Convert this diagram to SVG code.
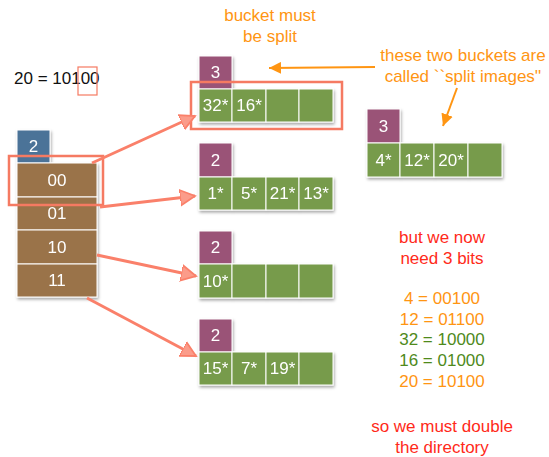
<svg xmlns="http://www.w3.org/2000/svg" width="549" height="457" viewBox="0 0 549 457">
  <style>
    text { font-family: "Liberation Sans", Arial, sans-serif; }
    .lbl { font-size: 17px; text-anchor: middle; }
    .orange { fill: #ff9512; }
    .red { fill: #ff2a1a; }
    .green { fill: #4f8a1b; }
    .cell { fill: #779b4b; stroke: #ffffff; stroke-width: 1; }
    .depth { fill: #9a5377; stroke: #ffffff; stroke-width: 1; }
    .gdepth { fill: #4c7398; stroke: #ffffff; stroke-width: 1; }
    .dir { fill: #9a7349; stroke: #ffffff; stroke-width: 1; }
    .ct { font-size: 17px; fill: #ffffff; text-anchor: middle; }
    .hl { fill: none; stroke: #f57a62; stroke-width: 2.5; }
    .ptr { stroke: #fa806a; stroke-width: 3; fill: none; marker-end: url(#ptrHead); }
    .note { stroke: #ff9512; stroke-width: 2; fill: none; marker-end: url(#noteHead); }
  </style>
  <defs>
    <filter id="shadow" x="-20%" y="-20%" width="150%" height="150%">
      <feDropShadow dx="1" dy="2" stdDeviation="1.5" flood-color="#000" flood-opacity="0.35"/>
    </filter>
    <marker id="ptrHead" markerWidth="6" markerHeight="6" refX="5" refY="3" orient="auto" markerUnits="strokeWidth">
      <path d="M0,0.4 L5,3 L0,5.6 Z" fill="#fb9c8a" stroke="#fa806a" stroke-width="0.6"/>
    </marker>
    <marker id="noteHead" markerWidth="7" markerHeight="6" refX="6" refY="3" orient="auto" markerUnits="strokeWidth">
      <path d="M0,0 L6,3 L0,6 Z" fill="#ff9512"/>
    </marker>
  </defs>

  <!-- hashed value and the bits used -->
  <text x="14" y="84" font-size="17" fill="#111">20 = 10100</text>
  <rect x="78" y="67" width="19" height="28" fill="none" stroke="#f57a62" stroke-width="1.2"/>

  <!-- directory, global depth 2 -->
  <g id="directory" filter="url(#shadow)">
    <rect class="gdepth" x="17" y="130" width="33" height="33"/>
    <text class="ct" x="33.5" y="152">2</text>
    <rect class="dir" x="17" y="163" width="80" height="34"/>
    <text class="ct" x="57" y="186">00</text>
    <rect class="dir" x="17" y="197" width="80" height="33"/>
    <text class="ct" x="57" y="219">01</text>
    <rect class="dir" x="17" y="230" width="80" height="34"/>
    <text class="ct" x="57" y="253">10</text>
    <rect class="dir" x="17" y="264" width="80" height="33"/>
    <text class="ct" x="57" y="286">11</text>
  </g>
  <rect class="hl" x="9" y="156" width="94" height="49"/>

  <!-- bucket A (overflowing), local depth 3 -->
  <g id="bucketA" filter="url(#shadow)">
    <rect class="depth" x="199" y="56" width="33" height="33"/>
    <text class="ct" x="215.5" y="78">3</text>
    <rect class="cell" x="199" y="89" width="33" height="33"/>
    <rect class="cell" x="232" y="89" width="34" height="33"/>
    <rect class="cell" x="266" y="89" width="33" height="33"/>
    <rect class="cell" x="299" y="89" width="34" height="33"/>
    <text class="ct" x="215.5" y="111">32*</text>
    <text class="ct" x="249" y="111">16*</text>
  </g>
  <rect class="hl" x="191" y="82" width="151" height="47"/>

  <!-- bucket B, local depth 2 -->
  <g id="bucketB" filter="url(#shadow)">
    <rect class="depth" x="199" y="143" width="33" height="34"/>
    <text class="ct" x="215.5" y="166">2</text>
    <rect class="cell" x="199" y="177" width="33" height="33"/>
    <rect class="cell" x="232" y="177" width="34" height="33"/>
    <rect class="cell" x="266" y="177" width="33" height="33"/>
    <rect class="cell" x="299" y="177" width="34" height="33"/>
    <text class="ct" x="215.5" y="199">1*</text>
    <text class="ct" x="249" y="199">5*</text>
    <text class="ct" x="282.5" y="199">21*</text>
    <text class="ct" x="316" y="199">13*</text>
  </g>

  <!-- bucket C, local depth 2 -->
  <g id="bucketC" filter="url(#shadow)">
    <rect class="depth" x="199" y="231" width="33" height="33"/>
    <text class="ct" x="215.5" y="253">2</text>
    <rect class="cell" x="199" y="264" width="33" height="34"/>
    <rect class="cell" x="232" y="264" width="34" height="34"/>
    <rect class="cell" x="266" y="264" width="33" height="34"/>
    <rect class="cell" x="299" y="264" width="34" height="34"/>
    <text class="ct" x="215.5" y="287">10*</text>
  </g>

  <!-- bucket D, local depth 2 -->
  <g id="bucketD" filter="url(#shadow)">
    <rect class="depth" x="199" y="319" width="33" height="33"/>
    <text class="ct" x="215.5" y="341">2</text>
    <rect class="cell" x="199" y="352" width="33" height="33"/>
    <rect class="cell" x="232" y="352" width="34" height="33"/>
    <rect class="cell" x="266" y="352" width="33" height="33"/>
    <rect class="cell" x="299" y="352" width="34" height="33"/>
    <text class="ct" x="215.5" y="374">15*</text>
    <text class="ct" x="249" y="374">7*</text>
    <text class="ct" x="282.5" y="374">19*</text>
  </g>

  <!-- split image of bucket A, local depth 3 -->
  <g id="bucketA2" filter="url(#shadow)">
    <rect class="depth" x="367" y="109" width="33" height="34"/>
    <text class="ct" x="383.5" y="132">3</text>
    <rect class="cell" x="367" y="143" width="33" height="34"/>
    <rect class="cell" x="400" y="143" width="34" height="34"/>
    <rect class="cell" x="434" y="143" width="34" height="34"/>
    <rect class="cell" x="468" y="143" width="34" height="34"/>
    <text class="ct" x="383.5" y="166">4*</text>
    <text class="ct" x="417" y="166">12*</text>
    <text class="ct" x="451" y="166">20*</text>
  </g>

  <!-- directory pointers and annotation arrows -->
  <g id="connectors">
    <line class="ptr" x1="92" y1="163" x2="195" y2="116"/>
    <line class="ptr" x1="100" y1="207" x2="195" y2="196"/>
    <line class="ptr" x1="97" y1="255" x2="196" y2="276"/>
    <line class="ptr" x1="87" y1="298" x2="196" y2="356"/>
    <line class="note" x1="375" y1="67" x2="269" y2="68"/>
    <line class="note" x1="457" y1="88" x2="443" y2="126"/>
  </g>

  <!-- annotations -->
  <text class="lbl orange" x="270" y="21">bucket must</text>
  <text class="lbl orange" x="270" y="42">be split</text>
  <text class="lbl orange" x="463" y="61">these two buckets are</text>
  <text class="lbl orange" x="463" y="82">called ``split images''</text>

  <text class="lbl red" x="442" y="243">but we now</text>
  <text class="lbl red" x="442" y="264">need 3 bits</text>
  <text class="lbl orange" x="442" y="304">4 = 00100</text>
  <text class="lbl orange" x="442" y="325">12 = 01100</text>
  <text class="lbl green" x="442" y="345">32 = 10000</text>
  <text class="lbl green" x="442" y="366">16 = 01000</text>
  <text class="lbl orange" x="442" y="387">20 = 10100</text>
  <text class="lbl red" x="442" y="432">so we must double</text>
  <text class="lbl red" x="442" y="453">the directory</text>
</svg>
